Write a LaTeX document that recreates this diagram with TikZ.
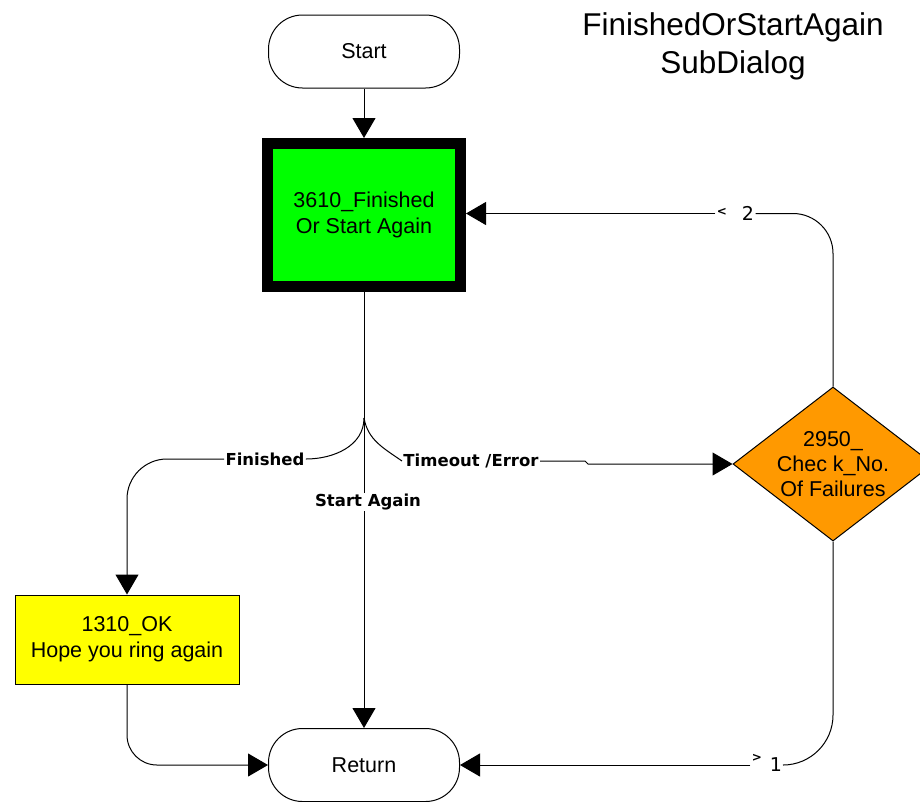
\documentclass[tikz,border=0pt]{standalone}
\usepackage{fontspec}
\setmainfont{Liberation Sans}
\newfontfamily\lblfont{DejaVu Sans}
\usetikzlibrary{shapes.geometric,arrows.meta}
\definecolor{boxgreen}{RGB}{0,255,0}
\definecolor{boxyellow}{RGB}{255,255,0}
\definecolor{boxorange}{RGB}{255,153,0}
\begin{document}
\begin{tikzpicture}[x=1pt,y=-1pt, line width=1pt,
  box/.style={draw, align=center, font=\fontsize{21.5}{26}\selectfont, inner sep=0pt},
  term/.style={box, rounded corners=34pt, minimum width=191pt, minimum height=73pt},
  arr/.style={-{Triangle[length=20pt,width=23pt]}},
  lbl/.style={font=\lblfont\bfseries\fontsize{16.5}{19}\selectfont, inner sep=1pt},
  num/.style={font=\lblfont\fontsize{19}{22}\selectfont, inner sep=1pt},
  chev/.style={font=\lblfont\bfseries\fontsize{12}{14}\selectfont, inner sep=1pt}
]
\useasboundingbox (0,0) rectangle (920,801);
\node[term] (start) at (364,51.5) {Start};
\node[box, fill=boxgreen, line width=11pt, minimum width=193pt, minimum height=143pt] (main) at (364,215) {3610\_Finished\\Or Start Again};
\node[box, fill=boxyellow, minimum width=224pt, minimum height=89pt] (ok) at (127,639.5) {1310\_OK\\Hope you ring again};
\node[term] (ret) at (364,765) {Return};
\node[draw, diamond, fill=boxorange, minimum width=200pt, minimum height=154pt, aspect=1.3, inner sep=0pt, align=center, font=\fontsize{21.5}{25}\selectfont] (chk) at (833,464) {2950\_\\Chec k\_No.\\ Of Failures};
\node[font=\fontsize{31.5}{38}\selectfont, align=center] (title) at (733,46) {FinishedOrStartAgain\\SubDialog};

\draw[arr] (start) -- (main);
\draw[arr] (main.south) -- (ret.north);
\node[lbl, fill=white] (sa) at (368,502) {Start Again};
\coordinate (br) at (364,418);

\node[lbl] (fin) at (265,459) {Finished};
\draw (br) to[out=-90,in=0] (fin.east);
\draw[arr, rounded corners=40pt] (fin.west) -| (ok.north);

\node[lbl] (tmo) at (471,461) {Timeout /Error};
\draw (br) to[out=-80,in=145] (tmo.west);
\draw[arr] (tmo.east) -- (585,461) -- (588,464) -- (chk.west);

\node[num] (n2) at (748,213.5) {2};
\node[chev] (lt2) at (722,212) {<};
\draw[rounded corners=40pt] (chk.north) |- (n2.east);
\draw[arr] (lt2.west |- n2.east) -- (main.east |- n2.east);

\node[num] (n1) at (776,765) {1};
\node[chev] (gt1) at (757,758) {>};
\draw[rounded corners=50pt] (chk.south) |- (n1.east);
\draw[arr] (gt1.west |- ret.east) -- (ret.east);

\draw[arr, rounded corners=30pt] (ok.south) |- (ret.west);
\end{tikzpicture}
\end{document}
